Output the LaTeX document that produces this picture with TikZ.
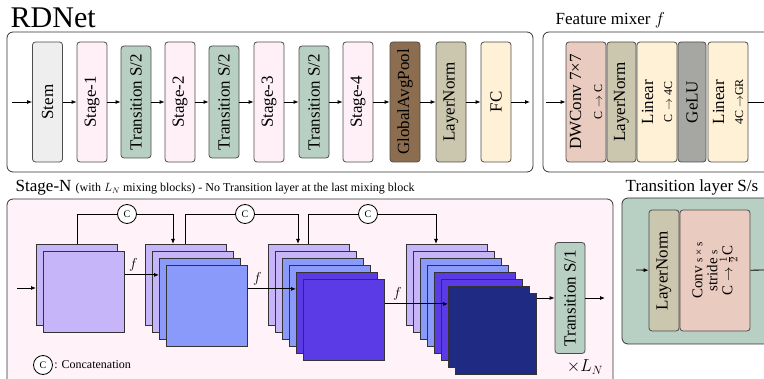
\documentclass[tikz,border=0pt]{standalone}
\usepackage{amsmath, amssymb}
\usepackage{fontspec}
\setmainfont{Liberation Serif}
\usepackage{tikz}
\usetikzlibrary{arrows.meta, positioning}

\definecolor{stemgray}{HTML}{EEEEEE}
\definecolor{stagepink}{HTML}{FFF0F8}
\definecolor{trgreen}{HTML}{B8CFC4}
\definecolor{gapbrown}{HTML}{8C6D4F}
\definecolor{lnkhaki}{HTML}{CBC6AE}
\definecolor{fcyellow}{HTML}{FFF1D6}
\definecolor{dwpink}{HTML}{EACBC0}
\definecolor{gelugray}{HTML}{A6A6A2}
\definecolor{bgpink}{HTML}{FFF2F8}
\definecolor{lav}{HTML}{C6B6F9}
\definecolor{blu}{HTML}{8A9AFA}
\definecolor{pur}{HTML}{5A3BE5}
\definecolor{nav}{HTML}{1F2B82}
\colorlet{sq1}{lav}\colorlet{sq2}{lav}
\colorlet{sq3}{blu}\colorlet{sq4}{blu}
\colorlet{sq5}{pur}\colorlet{sq6}{pur}
\colorlet{sq7}{nav}\colorlet{sq8}{nav}

\begin{document}
\begin{tikzpicture}[x=1pt, y=-1pt, line width=0.8pt,
  >={Latex[length=5pt,width=4pt]},
  blk/.style={draw=black!70, rounded corners=3pt, rotate=90, inner sep=0pt,
    minimum height=30pt, minimum width=120pt, align=center,
    font=\fontsize{17}{18}\selectfont},
  trblk/.style={blk, fill=trgreen, minimum width=112pt},
  panel/.style={draw=black!80, rounded corners=6pt},
  title/.style={anchor=base west, font=\fontsize{17}{18}\selectfont},
  sq/.style={draw=black!80, anchor=north west, minimum size=81pt, inner sep=0pt},
  cat/.style={draw, circle, inner sep=0pt, minimum size=19pt, fill=white,
    font=\fontsize{10}{10}\selectfont},
  flab/.style={font=\fontsize{15}{15}\selectfont},
  small/.style={font=\fontsize{12}{13}\selectfont}]
  \useasboundingbox (0,0) rectangle (764,379);
  \clip (0,0) rectangle (764,379);

  % RDNet
  \node[anchor=base west, font=\fontsize{30}{32}\selectfont] at (7,28) {RDNet};
  \draw[panel] (7,32) rectangle (533,172);
  \coordinate (in) at (12,102);
  \coordinate (out) at (530,102);
  \node[blk, fill=stemgray]  (stem) at (47.5,102) {Stem};
  \node[blk, fill=stagepink] (st1)  at (92,102)  {Stage-1};
  \node[trblk]               (tr1)  at (136,102) {Transition S/2};
  \node[blk, fill=stagepink] (st2)  at (180,102) {Stage-2};
  \node[trblk]               (tr2)  at (224,102) {Transition S/2};
  \node[blk, fill=stagepink] (st3)  at (269,102) {Stage-3};
  \node[trblk]               (tr3)  at (314,102) {Transition S/2};
  \node[blk, fill=stagepink] (st4)  at (358,102) {Stage-4};
  \node[blk, fill=gapbrown]  (gap)  at (405,102) {GlobalAvgPool};
  \node[blk, fill=lnkhaki]   (ln)   at (451,102) {LayerNorm};
  \node[blk, fill=fcyellow]  (fc)   at (496,102) {FC};
  \draw[->] (in) -- (stem);
  \draw[->] (stem) -- (st1);
  \draw[->] (st1) -- (tr1);
  \draw[->] (tr1) -- (st2);
  \draw[->] (st2) -- (tr2);
  \draw[->] (tr2) -- (st3);
  \draw[->] (st3) -- (tr3);
  \draw[->] (tr3) -- (st4);
  \draw[->] (st4) -- (gap);
  \draw[->] (gap) -- (ln);
  \draw[->] (ln) -- (fc);
  \draw[->] (fc) -- (out);

  % Feature mixer
  \node[title] at (552,25) {Feature mixer $f$};
  \draw[panel] (543,32) rectangle (790,172);
  \coordinate (fin) at (546,102);
  \coordinate (fout) at (770,102);
  \node[blk, fill=dwpink, minimum height=40pt] (dw) at (586,102)
    {DWConv 7×7\\[3pt]{\fontsize{12}{13}\selectfont C $\to$ C}};
  \node[blk, fill=lnkhaki, minimum height=29pt] (fln) at (621.5,102) {LayerNorm};
  \node[blk, fill=fcyellow, minimum height=40pt] (lin1) at (657,102)
    {Linear\\[1pt]{\fontsize{12}{13}\selectfont C $\to$ 4C}};
  \node[blk, fill=gelugray, minimum height=28pt] (gelu) at (692,102) {GeLU};
  \node[blk, fill=fcyellow, minimum height=40pt] (lin2) at (728,102)
    {Linear\\[1pt]{\fontsize{12}{13}\selectfont 4C $\to$GR}};
  \draw[->] (fin) -- (dw);
  \draw (lin2) -- (fout);

  % Stage-N
  \node[title] at (12,192) {Stage-N {\fontsize{12}{13}\selectfont (with $L_N$ mixing blocks) - No Transition layer at the last mixing block}};
  \draw[panel, fill=bgpink] (7,199) rectangle (613,400);
  \foreach \n/\x [count=\k] in {2/36, 4/145, 6/268, 8/406} {
    \foreach \i in {1,...,\n} {
      \node[sq, fill=sq\i] (s\k-\i) at ({\x+7*(\i-1)},{244+7*(\i-1)}) {};
    }
  }
  \coordinate (sin) at (17,288);
  \draw[->] (sin) -- (sin -| s1-1.west);
  \draw[->] ([yshift=17pt]s1-2.east) -- ([yshift=17pt]s1-2.east -| s2-3.west)
    node[flab, pos=0.25, above] {$f$};
  \draw[->] ([yshift=17pt]s2-4.east) -- ([yshift=17pt]s2-4.east -| s3-5.west)
    node[flab, pos=0.2, above] {$f$};
  \draw[->] ([yshift=16pt]s3-6.east) -- ([yshift=16pt]s3-6.east -| s4-7.west)
    node[flab, pos=0.2, above] {$f$};

  \node[cat] (c1) at (127,214) {C};
  \node[cat] (c2) at (245,214) {C};
  \node[cat] (c3) at (368,214) {C};
  \draw ([xshift=41pt]s1-1.north west) |- (c1);
  \draw[->] (c1) -| ([xshift=28pt]s2-1.north west);
  \draw ([xshift=40pt]s2-1.north west) |- (c2);
  \draw[->] (c2) -| ([xshift=30pt]s3-1.north west);
  \draw ([xshift=40pt]s3-1.north west) |- (c3);
  \draw[->] (c3) -| ([xshift=30pt]s4-1.north west);

  \node[trblk, minimum width=111pt] (trs) at (570,298) {Transition S/1};
  \coordinate (sout) at (605,298);
  \draw[->] (s4-8.east |- trs) -- (trs);
  \draw[->] (trs) -- (sout);
  \node[font=\fontsize{18}{18}\selectfont] at (585,367) {$\times L_N$};

  \node[cat] (lc) at (43,365) {C};
  \node[small, inner sep=1pt, right=0pt of lc] {: Concatenation};

  % Transition layer
  \node[title] at (622,192) {Transition layer S/s};
  \draw[panel, fill=trgreen] (622,198) rectangle (790,344);
  \coordinate (tin) at (636,270);
  \coordinate (tout) at (770,270);
  \node[blk, fill=lnkhaki, minimum width=121pt] (tln) at (664,270.5) {LayerNorm};
  \node[blk, fill=dwpink, minimum width=121pt, minimum height=70pt,
    font=\fontsize{15}{14}\selectfont] (conv) at (715,270.5)
    {Conv {\fontsize{11}{11}\selectfont s × s}\\[1pt]stride {\fontsize{11}{11}\selectfont s}\\[1pt]C $\to$ $\frac{1}{2}$C};
  \draw[->] (tin) -- (tln);
  \draw[->] (conv) -- (tout);
\end{tikzpicture}
\end{document}
